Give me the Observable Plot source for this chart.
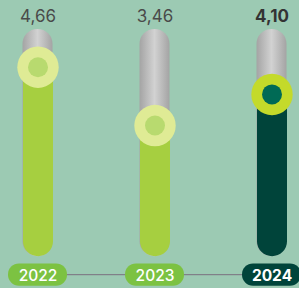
<!DOCTYPE html>
<html>
<head>
<meta charset="utf-8">
<script src="https://cdn.jsdelivr.net/npm/d3@7"></script>
<script src="https://cdn.jsdelivr.net/npm/@observablehq/plot@0.6"></script>
<style>
  html, body { margin: 0; padding: 0; background: #9ccab3; }
  #chart svg { display: block; }
</style>
</head>
<body>
<div id="chart"></div>
<script>
// ---- data ----
const years = ["2022", "2023", "2024"];
const values = [4.66, 3.46, 4.10];
const valueLabels = ["4,66", "3,46", "4,10"];
const highlightYear = "2024";
const trackLow = 1.07;   // bottom of every track
const trackHigh = 5.13;  // top of every track

const data = years.map((y, i) => ({year: y, value: values[i], label: valueLabels[i], hi: y === highlightYear}));

// ---- styles ----
const style = {
  normal: {bar: "#a6cf40", ring: "#dfeb95", core: "#b8da6f", pill: "#7cc242"},
  hi: {bar: "#00443a", ring: "#c4da2a", core: "#006a55", pill: "#00443a"}
};
const st = d => d.hi ? style.hi : style.normal;
const font = "Inter, 'Noto Sans', sans-serif";

const chart = Plot.plot({
  width: 299,
  height: 288,
  margin: 0,
  style: {background: "#9ccab3", fontFamily: font},
  x: {type: "band", domain: years, range: [-21.65, 330.25], paddingInner: 0.497, paddingOuter: 0.2485, axis: null},
  y: {domain: [0, 6], range: [293.2, 1.6], axis: null},
  marks: [
    // grey tracks
    Plot.rect(data, {x: "year", y1: () => trackLow, y2: () => trackHigh, insetLeft: 14.5, insetRight: 14.5, insetTop: -15, insetBottom: -15, rx: 15, fill: "url(#trackGrad)"}),
    // value bars
    Plot.ruleX(data, {x: "year", y1: () => trackLow, y2: "value", stroke: d => st(d).bar, strokeWidth: 30, strokeLinecap: "round"}),
    // knobs
    Plot.dot(data, {x: "year", y: "value", r: 20.7, fill: d => st(d).ring, stroke: "none"}),
    Plot.dot(data, {x: "year", y: "value", r: 10, fill: d => st(d).core, stroke: "none"}),
    // value labels
    Plot.text(data.filter(d => !d.hi), {x: "year", text: "label", frameAnchor: "top", lineAnchor: "bottom", dy: 21.7, fontSize: 17, fill: "#4a4a4a", fontWeight: 400}),
    Plot.text(data.filter(d => d.hi), {x: "year", text: "label", frameAnchor: "top", lineAnchor: "bottom", dy: 21.7, fontSize: 17, fill: "#333333", fontWeight: 700}),
    // connector line
    Plot.ruleY([trackLow], {x1: () => years[0], x2: () => years[years.length - 1], dy: 33, stroke: "#7b6f7e", strokeWidth: 1}),
    // year pills
    Plot.rect(data, {x: "year", insetTop: 263.4, insetBottom: 2.3, rx: 11, fill: d => st(d).pill}),
    Plot.text(data.filter(d => !d.hi), {x: "year", text: "year", frameAnchor: "top", lineAnchor: "bottom", dy: 280, fontSize: 15.5, fill: "white", fontWeight: 500}),
    Plot.text(data.filter(d => d.hi), {x: "year", text: "year", frameAnchor: "top", lineAnchor: "bottom", dy: 280, fontSize: 15.5, fill: "white", fontWeight: 700})
  ]
});

const defs = d3.select(chart).insert("defs", ":first-child");
const g = defs.append("linearGradient").attr("id", "trackGrad").attr("x1", "0").attr("x2", "1").attr("y1", "0").attr("y2", "0");
g.append("stop").attr("offset", "0%").attr("stop-color", "#a4a4a4");
g.append("stop").attr("offset", "50%").attr("stop-color", "#d2d2d2");
g.append("stop").attr("offset", "100%").attr("stop-color", "#a4a4a4");

document.getElementById("chart").appendChild(chart);
</script>
</body>
</html>
